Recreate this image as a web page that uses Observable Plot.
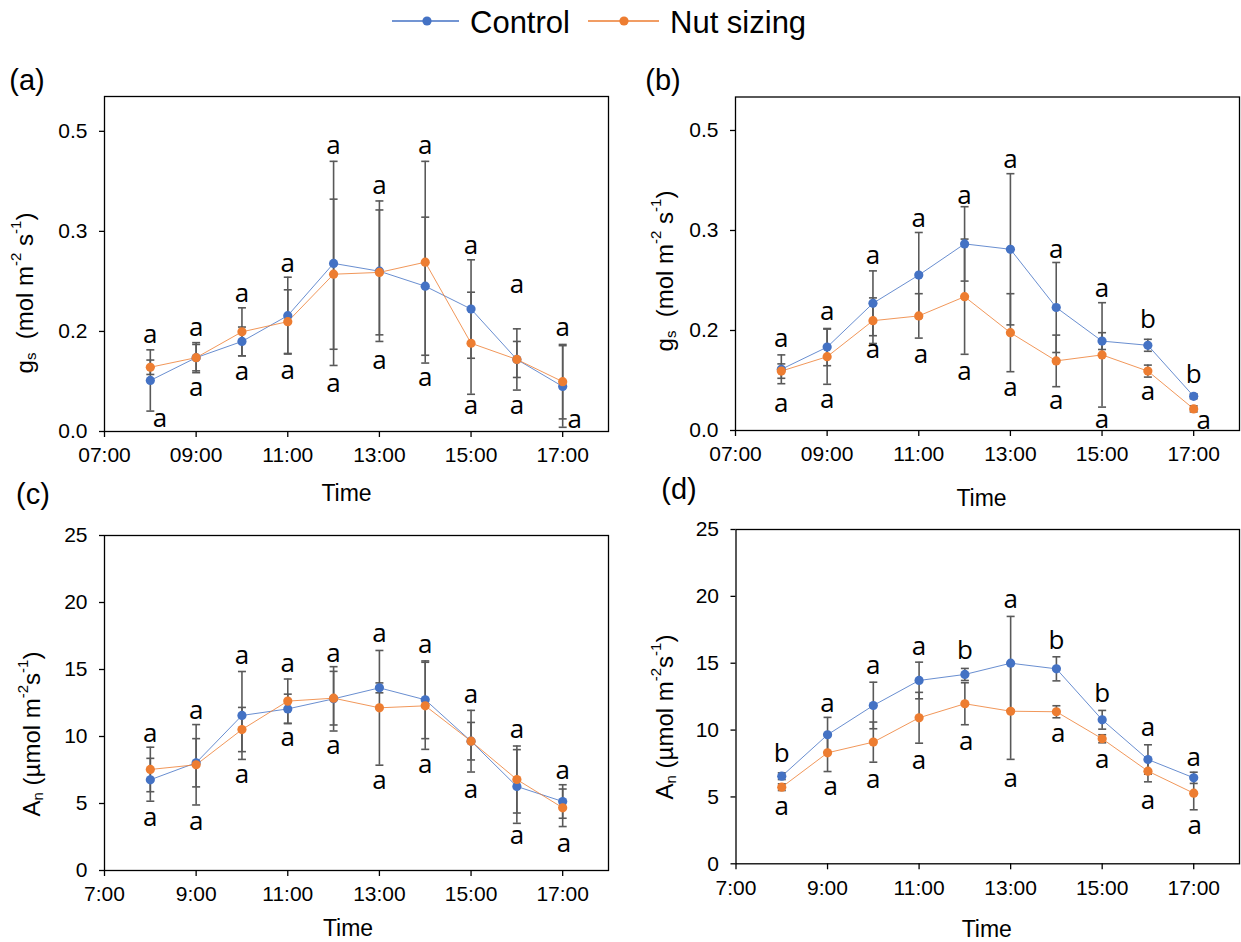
<!DOCTYPE html>
<html><head><meta charset="utf-8">
<script src="https://cdn.jsdelivr.net/npm/d3@7"></script>
<script src="https://cdn.jsdelivr.net/npm/@observablehq/plot@0.6"></script>
<style>
body{margin:0;background:#fff;}
#root{position:relative;width:1241px;height:942px;overflow:hidden;background:#fff;font-family:"Liberation Sans",Arial,sans-serif;}
.panel{position:absolute;}
.plab{position:absolute;font-size:29px;line-height:1;transform:translate(-50%,-50%);white-space:nowrap;}
</style></head><body><div id="root"></div><script>
// ---------- data ----------
const hours = [8, 9, 10, 11, 12, 13, 14, 15, 16, 17];
const seriesNames = ["Control", "Nut sizing"];
const xTicks = [7, 9, 11, 13, 15, 17];
const gsTicks = [0, 1/6, 1/3, 0.5];
const anTicks = [0, 5, 10, 15, 20, 25];

// (a) gs
const gsA_control    = [0.085, 0.123, 0.150, 0.193, 0.280, 0.267, 0.242, 0.204, 0.120, 0.075];
const gsA_controlErr = [0.051, 0.025, 0.024, 0.064, 0.170, 0.117, 0.115, 0.082, 0.051, 0.068];
const gsA_nut        = [0.107, 0.123, 0.166, 0.183, 0.262, 0.265, 0.282, 0.147, 0.120, 0.083];
const gsA_nutErr     = [0.012, 0.022, 0.040, 0.053, 0.125, 0.104, 0.168, 0.085, 0.030, 0.062];
const gsA_topLetters = ["a","a","a","a","a","a","a","a","a","a"];
const gsA_topY       = [0.162, 0.173, 0.229, 0.279, 0.476, 0.409, 0.476, 0.309, 0.244, 0.173];
const gsA_botLetters = ["a","a","a","a","a","a","a","a","a","a"];
const gsA_botY       = [0.021, 0.073, 0.100, 0.102, 0.080, 0.118, 0.090, 0.043, 0.043, 0.019];
const gsA_botX       = [8.21, 9, 10, 11, 12, 13, 14, 15, 16, 17.26];

// (b) gs
const gsB_control    = [0.102, 0.139, 0.212, 0.259, 0.311, 0.302, 0.205, 0.149, 0.142, 0.057];
const gsB_controlErr = [0.024, 0.031, 0.054, 0.071, 0.062, 0.126, 0.075, 0.014, 0.010, 0.004];
const gsB_nut        = [0.099, 0.123, 0.183, 0.191, 0.223, 0.163, 0.116, 0.126, 0.099, 0.036];
const gsB_nutErr     = [0.012, 0.046, 0.038, 0.037, 0.096, 0.065, 0.043, 0.087, 0.010, 0.005];
const gsB_topLetters = ["a","a","a","a","a","a","a","a","b","b"];
const gsB_topY       = [0.153, 0.198, 0.292, 0.353, 0.392, 0.452, 0.301, 0.237, 0.185, 0.093];
const gsB_botLetters = ["a","a","a","a","a","a","a","a","a","a"];
const gsB_botY       = [0.045, 0.051, 0.134, 0.127, 0.098, 0.072, 0.049, 0.018, 0.064, 0.017];
const gsB_botX       = [8, 9, 10, 11.05, 12, 13, 14, 15, 16, 17.22];

// (c) An
const anC_control    = [6.77, 8.04, 11.57, 12.06, 12.81, 13.63, 12.74, 9.65, 6.27, 5.15];
const anC_controlErr = [1.60, 1.80, 3.28, 1.10, 2.40, 0.37, 2.90, 2.30, 2.75, 1.25];
const anC_nut        = [7.54, 7.89, 10.52, 12.64, 12.86, 12.14, 12.29, 9.65, 6.79, 4.68];
const anC_nutErr     = [1.66, 3.00, 1.65, 1.65, 2.00, 4.28, 3.25, 1.40, 2.50, 1.40];
const anC_topLetters = ["a","a","a","a","a","a","a","a","a","a"];
const anC_topY       = [10.2, 11.94, 16.04, 15.47, 16.17, 17.66, 16.87, 13.13, 10.5, 7.46];
const anC_botLetters = ["a","a","a","a","a","a","a","a","a","a"];
const anC_botY       = [3.93, 3.68, 7.16, 9.9, 9.33, 6.72, 7.89, 6.02, 2.61, 1.99];
const anC_botX       = [8, 9, 10, 11, 12, 13, 14, 15, 16, 17.03];

// (d) An
const anD_control    = [6.55, 9.65, 11.84, 13.71, 14.16, 15.00, 14.58, 10.77, 7.80, 6.43];
const anD_controlErr = [0.25, 1.30, 1.74, 1.37, 0.45, 3.50, 0.90, 0.70, 1.10, 0.42];
const anD_nut        = [5.73, 8.30, 9.10, 10.92, 11.97, 11.41, 11.37, 9.35, 6.93, 5.28];
const anD_nutErr     = [0.25, 1.40, 1.50, 1.90, 1.57, 3.60, 0.45, 0.30, 0.80, 1.24];
const anD_topLetters = ["b","a","a","a","b","a","b","b","a","a"];
const anD_topY       = [8.27, 11.97, 14.83, 16.25, 15.95, 19.75, 16.7, 12.71, 10.16, 7.97];
const anD_botLetters = ["a","a","a","a","a","a","a","a","a","a"];
const anD_botY       = [4.29, 5.78, 6.28, 7.73, 9.17, 6.36, 9.72, 7.78, 4.73, 2.86];
const anD_botX       = [8, 9.07, 10, 11, 12.03, 13, 14.04, 15, 16, 17.02];

// ---------- styling ----------
const BLUE = "#4472C4", ORANGE = "#ED7D31", ERR = "#595959";
const FONT = "'Liberation Sans', Arial, sans-serif";
const LETTER_FONT = "'Open Sans', 'Liberation Sans', sans-serif";
const capSymbol = {draw(ctx) { ctx.moveTo(-4, 0); ctx.lineTo(4, 0); }};
const fmtGs = d => d.toFixed(1);
const fmtHH = d => String(d).padStart(2, "0") + ":00";
const fmtH = d => d + ":00";

const root = document.getElementById("root");

function makePanel(c) {
  const rows = (vals, errs, s) => hours.map((t, i) => ({t, v: vals[i], e: errs[i], s}));
  const ctrl = rows(c.control, c.controlErr, seriesNames[0]);
  const nut = rows(c.nut, c.nutErr, seriesNames[1]);
  const all = ctrl.concat(nut);
  const caps = all.flatMap(d => [{t: d.t, y: d.v - d.e}, {t: d.t, y: d.v + d.e}]);
  const letters = hours.map((t, i) => ({t, y: c.topY[i], l: c.topL[i]}))
    .concat(hours.map((t, i) => ({t: c.botX[i], y: c.botY[i], l: c.botL[i]})));
  const svg = Plot.plot({
    width: c.width, height: c.height,
    marginTop: c.mt, marginBottom: c.mb, marginLeft: c.ml, marginRight: c.mr,
    style: {background: "transparent", overflow: "visible", fontFamily: FONT, fontSize: "21px", color: "black"},
    x: {domain: [7, 18], axis: null},
    y: {domain: c.yDomain, axis: null},
    marks: [
      Plot.axisX({ticks: xTicks, tickFormat: c.xFmt, tickSize: 6, tickPadding: 10, label: null, strokeWidth: 1.3, fontSize: 21}),
      Plot.axisY({ticks: c.yTicks, tickFormat: c.yFmt, tickSize: 5, tickPadding: 12, label: null, strokeWidth: 1.3, fontSize: 21}),
      Plot.frame({stroke: "black", strokeWidth: 1.3}),
      Plot.ruleX(all, {x: "t", y1: d => d.v - d.e, y2: d => d.v + d.e, stroke: ERR, strokeWidth: 1.6}),
      Plot.dot(caps, {x: "t", y: "y", symbol: capSymbol, stroke: ERR, strokeWidth: 1.6, fill: "none"}),
      Plot.line(ctrl, {x: "t", y: "v", stroke: BLUE, strokeWidth: 1, strokeOpacity: 0.8}),
      Plot.line(nut, {x: "t", y: "v", stroke: ORANGE, strokeWidth: 1, strokeOpacity: 0.8}),
      Plot.dot(ctrl, {x: "t", y: "v", r: 4.6, fill: BLUE}),
      Plot.dot(nut, {x: "t", y: "v", r: 4.6, fill: ORANGE}),
      Plot.text(letters, {x: "t", y: "y", text: "l", fontSize: 26, fontFamily: LETTER_FONT, fill: "black"}),
      Plot.text(["Time"], {text: d => d, frameAnchor: "bottom", lineAnchor: "middle", dx: c.timeDx, dy: c.timeDy, fontSize: 23, fontFamily: FONT, fill: "black"})
    ]
  });
  svg.classList.add("panel");
  svg.style.left = c.left + "px";
  svg.style.top = c.top + "px";
  root.appendChild(svg);
  // y-axis title with sub/superscripts
  const t = d3.select(svg).append("text")
    .attr("transform", `translate(${c.ylab.x - c.left},${c.ylab.y - c.top}) rotate(-90)`)
    .attr("text-anchor", "middle")
    .attr("dominant-baseline", "central")
    .attr("font-family", FONT)
    .attr("font-size", 24)
    .attr("fill", "black");
  c.ylab.parts.forEach(p => {
    const ts = t.append("tspan").text(p[0]);
    if (p[1] === "sub") ts.attr("font-size", 15).attr("baseline-shift", "-6");
    if (p[1] === "sup") ts.attr("font-size", 15).attr("baseline-shift", "9");
  });
  // panel letter
  const lab = document.createElement("div");
  lab.className = "plab";
  lab.textContent = c.letter[0];
  lab.style.left = c.letter[1] + "px";
  lab.style.top = c.letter[2] + "px";
  root.appendChild(lab);
}

const gsParts = [["g"], ["s", "sub"], ["  (mol m"], ["-2", "sup"], [" s"], ["-1", "sup"], [")"]];
const anParts = [["A"], ["n", "sub"], [" (\u00b5mol m"], ["-2", "sup"], ["s"], ["-1", "sup"], [")"]];

makePanel({left: 0, top: 50, width: 620, height: 460, ml: 104, mr: 12, mt: 46, mb: 79,
  yDomain: [0, 0.558], yTicks: gsTicks, yFmt: fmtGs, xFmt: fmtHH,
  control: gsA_control, controlErr: gsA_controlErr, nut: gsA_nut, nutErr: gsA_nutErr,
  topL: gsA_topLetters, topY: gsA_topY, botL: gsA_botLetters, botY: gsA_botY, botX: gsA_botX,
  timeDx: -10, timeDy: 62, ylab: {x: 24, y: 293, parts: gsParts}, letter: ["(a)", 27, 80]});

makePanel({left: 620, top: 50, width: 621, height: 465, ml: 115, mr: 2, mt: 46.5, mb: 85,
  yDomain: [0, 0.5558], yTicks: gsTicks, yFmt: fmtGs, xFmt: fmtHH,
  control: gsB_control, controlErr: gsB_controlErr, nut: gsB_nut, nutErr: gsB_nutErr,
  topL: gsB_topLetters, topY: gsB_topY, botL: gsB_botLetters, botY: gsB_botY, botX: gsB_botX,
  timeDx: -6, timeDy: 68, ylab: {x: 664, y: 271, parts: gsParts}, letter: ["(b)", 663, 80]});

makePanel({left: 0, top: 505, width: 620, height: 437, ml: 104, mr: 12, mt: 30, mb: 72,
  yDomain: [0, 25], yTicks: anTicks, yFmt: d => String(d), xFmt: fmtH,
  control: anC_control, controlErr: anC_controlErr, nut: anC_nut, nutErr: anC_nutErr,
  topL: anC_topLetters, topY: anC_topY, botL: anC_botLetters, botY: anC_botY, botX: anC_botX,
  timeDx: -8.5, timeDy: 58, ylab: {x: 31, y: 734, parts: anParts}, letter: ["(c)", 33, 494]});

makePanel({left: 620, top: 505, width: 621, height: 437, ml: 115.5, mr: 2, mt: 24, mb: 78.7,
  yDomain: [0, 25], yTicks: anTicks, yFmt: d => String(d), xFmt: fmtH,
  control: anD_control, controlErr: anD_controlErr, nut: anD_nut, nutErr: anD_nutErr,
  topL: anD_topLetters, topY: anD_topY, botL: anD_botLetters, botY: anD_botY, botX: anD_botX,
  timeDx: -1, timeDy: 66, ylab: {x: 664, y: 717, parts: anParts}, letter: ["(d)", 679, 489]});

// ---------- legend ----------
const leg = d3.select(root).append("svg")
  .attr("width", 1241).attr("height", 48)
  .style("position", "absolute").style("left", "0px").style("top", "0px");
const legItems = [
  {name: seriesNames[0], color: BLUE, x1: 392, x2: 459, cx: 427, tx: 470},
  {name: seriesNames[1], color: ORANGE, x1: 588, x2: 659, cx: 624, tx: 670}
];
legItems.forEach(it => {
  leg.append("line").attr("x1", it.x1).attr("x2", it.x2).attr("y1", 21).attr("y2", 21)
    .attr("stroke", it.color).attr("stroke-width", 1.3);
  leg.append("circle").attr("cx", it.cx).attr("cy", 21).attr("r", 4.6).attr("fill", it.color);
  leg.append("text").attr("x", it.tx).attr("y", 22).attr("dominant-baseline", "central")
    .attr("font-family", FONT).attr("font-size", 31).attr("fill", "black").text(it.name);
});
</script></body></html>
